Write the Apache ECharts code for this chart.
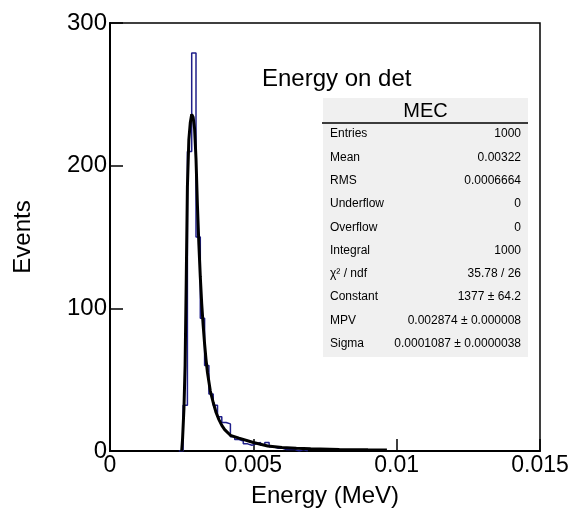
<!DOCTYPE html>
<html>
<head>
<meta charset="utf-8">
<script src="https://cdn.jsdelivr.net/npm/echarts@6/dist/echarts.min.js"></script>
<style>
  html, body { margin: 0; padding: 0; background: #fff; }
  #chart { width: 568px; height: 519px; }
</style>
</head>
<body>
<div id="chart"></div>
<script>
// histogram: 100 bins over [0, 0.015], non-empty part starts at bin 16
const binStart = 0.0024
const binWidth = 0.00015
const counts = [0, 32, 210, 279, 150, 93, 60, 40, 32, 24, 20, 19, 10, 8, 7, 5, 4, 5, 6, 4, 6, 3, 2, 2, 1, 1, 1, 0, 1, 0]

// landau fit curve
const fitX = [0.0025, 0.00253, 0.00258, 0.00262, 0.00266, 0.0027, 0.00275, 0.0028, 0.00285, 0.0029, 0.00295,
  0.003, 0.00305, 0.0031, 0.00315, 0.0032, 0.00325, 0.0033, 0.00335, 0.0034, 0.0035, 0.0036, 0.0037, 0.0038,
  0.0039, 0.004, 0.0042, 0.0045, 0.005, 0.0055, 0.006, 0.0065, 0.007, 0.008, 0.009, 0.00966]
const fitY = [0, 8, 30, 60, 120, 185, 218, 230, 236, 234, 226,
  205, 172, 145, 122, 103, 88, 75, 64, 55, 42, 34, 27, 22,
  18, 15, 11, 9, 6, 3.5, 2.5, 1.9, 1.5, 1.1, 0.8, 0.7]

const xTicks = ['0', '0.005', '0.01', '0.015']
const yTicks = ['0', '100', '200', '300']

const statNames = ['Entries', 'Mean', 'RMS', 'Underflow', 'Overflow', 'Integral', 'χ² / ndf', 'Constant', 'MPV', 'Sigma']
const statValues = ['1000', '0.00322', '0.0006664', '0', '0', '1000', '35.78 / 26', '1377 ± 64.2', '0.002874 ± 0.000008', '0.0001087 ± 0.0000038']

const font = 'Liberation Sans, Arial, Helvetica, sans-serif'

const histData = counts.map((c, i) => [binStart + i * binWidth, c])
histData.push([binStart + counts.length * binWidth, 0])

const statsBox = { x: 323, y: 98, w: 205, h: 259 }
const statsGraphics = [
  { type: 'rect', shape: { x: statsBox.x, y: statsBox.y, width: statsBox.w, height: statsBox.h }, style: { fill: '#f0f0f0' } },
  { type: 'text', x: statsBox.x + statsBox.w / 2, y: 111, style: { text: 'MEC', font: '20px ' + font, fill: '#000', align: 'center', verticalAlign: 'middle' } },
  { type: 'line', shape: { x1: statsBox.x - 1, y1: 123, x2: statsBox.x + statsBox.w, y2: 123 }, style: { stroke: '#000', lineWidth: 1.5 } },
]
statNames.forEach((name, i) => {
  const y = 134 + i * 23.3
  statsGraphics.push({ type: 'text', x: 330, y, style: { text: name, font: '12px ' + font, fill: '#000', verticalAlign: 'middle' } })
  statsGraphics.push({ type: 'text', x: 521, y, style: { text: statValues[i], font: '12px ' + font, fill: '#000', align: 'right', verticalAlign: 'middle' } })
})

const myChart = echarts.init(document.getElementById('chart'))
myChart.setOption({
  animation: false,
  backgroundColor: '#fff',
  title: {
    text: 'Energy on det',
    left: 257,
    top: 62,
    textStyle: { fontSize: 24, fontWeight: 'normal', color: '#000', fontFamily: font },
  },
  grid: {
    left: 110,
    right: 28,
    top: 23,
    bottom: 68,
    containLabel: false,
    outerBoundsMode: 'none',
    show: true,
    borderColor: '#000',
    borderWidth: 1.5,
    backgroundColor: 'transparent',
  },
  xAxis: {
    type: 'value',
    min: 0,
    max: 0.015,
    interval: 0.005,
    name: 'Energy (MeV)',
    nameLocation: 'middle',
    nameGap: 33,
    nameTextStyle: { fontSize: 24, color: '#000', fontFamily: font },
    axisLine: { show: true, lineStyle: { color: '#000', width: 2 } },
    axisTick: { show: true, inside: true, length: 12, lineStyle: { color: '#000', width: 1.5 } },
    splitLine: { show: false },
    axisLabel: {
      margin: 3,
      fontSize: 23,
      color: '#000',
      fontFamily: font,
      formatter: (v) => xTicks[Math.round(v / 0.005)],
    },
  },
  yAxis: {
    type: 'value',
    min: 0,
    max: 300,
    interval: 100,
    name: 'Events',
    nameLocation: 'middle',
    nameGap: 75,
    nameTextStyle: { fontSize: 24, color: '#000', fontFamily: font },
    axisLine: { show: true, lineStyle: { color: '#000', width: 2 } },
    axisTick: { show: true, inside: true, length: 13, lineStyle: { color: '#000', width: 1.5 } },
    splitLine: { show: false },
    axisLabel: {
      margin: 3,
      fontSize: 24,
      color: '#000',
      fontFamily: font,
      formatter: (v) => yTicks[Math.round(v / 100)],
    },
  },
  series: [
    {
      name: 'hist',
      type: 'line',
      step: 'end',
      symbol: 'none',
      data: histData,
      lineStyle: { color: '#1f1f8a', width: 1.5 },
      z: 2,
    },
    {
      name: 'fit',
      type: 'line',
      symbol: 'none',
      data: fitX.map((x, i) => [x, fitY[i]]),
      lineStyle: { color: '#000', width: 3 },
      z: 3,
    },
  ],
  graphic: statsGraphics,
})
</script>
</body>
</html>
